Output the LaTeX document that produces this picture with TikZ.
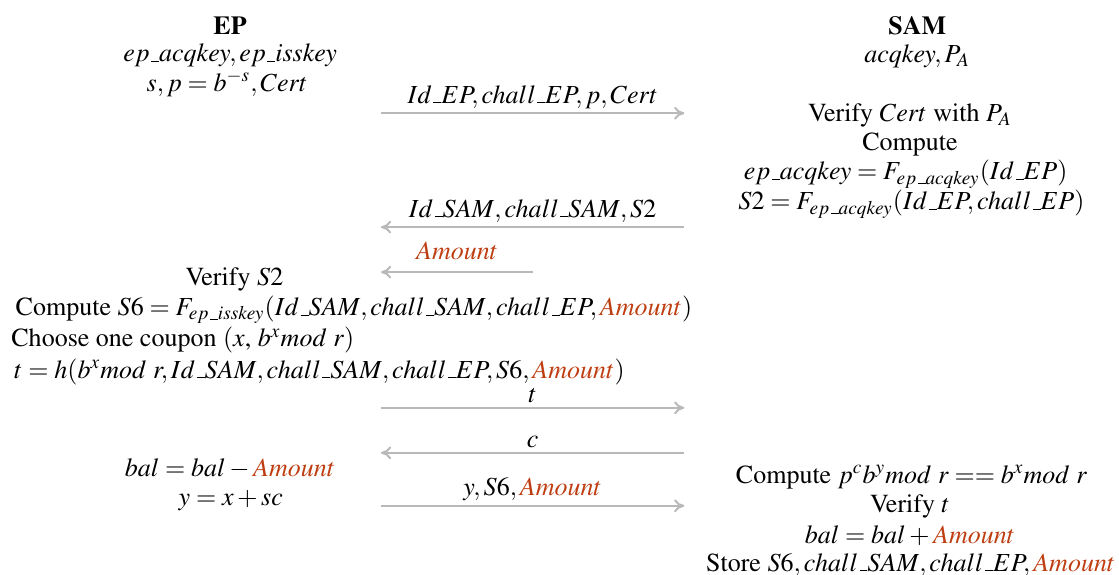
\documentclass[tikz,border=0pt]{standalone}
\usepackage[OT1]{fontenc}
\usepackage{mathptmx}
\usetikzlibrary{arrows.meta}

\definecolor{amountred}{RGB}{190,62,18}
\definecolor{msggray}{RGB}{185,185,185}
\newcommand{\amt}{\textcolor{amountred}{Amount}}

\tikzset{
  msg/.style={msggray, line width=0.8pt, -{To[length=4pt,width=5pt]}},
  lbl/.style={black, above, inner sep=1.5pt, font=\fontsize{10.2}{12}\selectfont},
  txt/.style={inner sep=0pt, anchor=base, font=\fontsize{10.2}{12}\selectfont},
}

\begin{document}
\begin{tikzpicture}
        \useasboundingbox (0,0) rectangle (15.42,-7.92);
        % EP side
        \node[txt] (ep) at (3.17, -0.47) {\textbf{EP}};
        \node[txt] (epkeys) at (3.17, -0.85) {$ep\_acqkey, ep\_isskey$};
        \node[txt] (eps) at (3.13, -1.26) {$s, p = b^{-s}, Cert$};
        % SAM side
        \node[txt] (sam) at (12.64, -0.47) {\textbf{SAM}};
        \node[txt] (samkeys) at (12.64, -0.86) {$acqkey, P_A$};
        % first message
        \coordinate (m1s) at (5.25, -1.56);
        \coordinate (m1e) at (9.43, -1.56);
        \draw[msg] (m1s) -- node[lbl] (l1) {$Id\_EP, chall\_EP, p, Cert$} (m1e);
        \node[txt] (vcert) at (12.54, -1.68) {Verify $Cert$ with $P_A$};
        \node[txt] (comp1) at (12.54, -2.07) {Compute};
        \node[txt] (acq) at (12.48, -2.48) {$ep\_acqkey = F_{ep\_acqkey}(Id\_EP)$};
        \node[txt] (s2) at (12.56, -2.89) {$S2 = F_{ep\_acqkey}(Id\_EP, chall\_EP)$};
        % second message
        \coordinate (m2s) at (9.43, -3.13);
        \coordinate (m2e) at (5.25, -3.13);
        \draw[msg] (m2s) -- node[lbl] (l2) {$Id\_SAM, chall\_SAM, S2$} (m2e);
        \coordinate (m3s) at (7.35, -3.75);
        \coordinate (m3e) at (5.25, -3.75);
        \draw[msg] (m3s) -- node[lbl, yshift=3pt] (l3) {$\amt$} (m3e);
        % EP computes
        \node[txt] (vs2) at (3.23, -3.93) {Verify $S2$};
        \node[txt, anchor=base west] (s6) at (0.21, -4.35) {Compute $S6 = F_{ep\_isskey}(Id\_SAM, chall\_SAM, chall\_EP, \amt)$};
        \node[txt, anchor=base west] (coupon) at (0.15, -4.78) {Choose one coupon $(x$, $b^x mod~r)$};
        \node[txt, anchor=base west] (hash) at (0.19, -5.21) {$t = h(b^x mod~r, Id\_SAM, chall\_SAM, chall\_EP, S6, \amt)$};
        % t and c
        \coordinate (m4s) at (5.25, -5.62);
        \coordinate (m4e) at (9.43, -5.62);
        \draw[msg] (m4s) -- node[lbl] (l4) {$t$} (m4e);
        \coordinate (m5s) at (9.43, -6.24);
        \coordinate (m5e) at (5.25, -6.24);
        \draw[msg] (m5s) -- node[lbl] (l5) {$c$} (m5e);
        \node[txt] (balm) at (3.17, -6.57) {$bal = bal - \amt$};
        \node[txt] (yx) at (3.18, -6.96) {$y = x + sc$};
        % last message
        \coordinate (m6s) at (5.25, -6.97);
        \coordinate (m6e) at (9.43, -6.97);
        \draw[msg] (m6s) -- node[lbl] (l6) {$y, S6, \amt$} (m6e);
        % SAM checks
        \node[txt] (chk) at (12.56, -6.66) {Compute $p^c b^y mod~r == b^x mod~r$};
        \node[txt] (vt) at (12.54, -7.06) {Verify $t$};
        \node[txt] (balp) at (12.54, -7.49) {$bal = bal + \amt$};
        \node[txt] (store) at (12.55, -7.87) {Store $S6, chall\_SAM, chall\_EP, \amt$};
\end{tikzpicture}
\end{document}
